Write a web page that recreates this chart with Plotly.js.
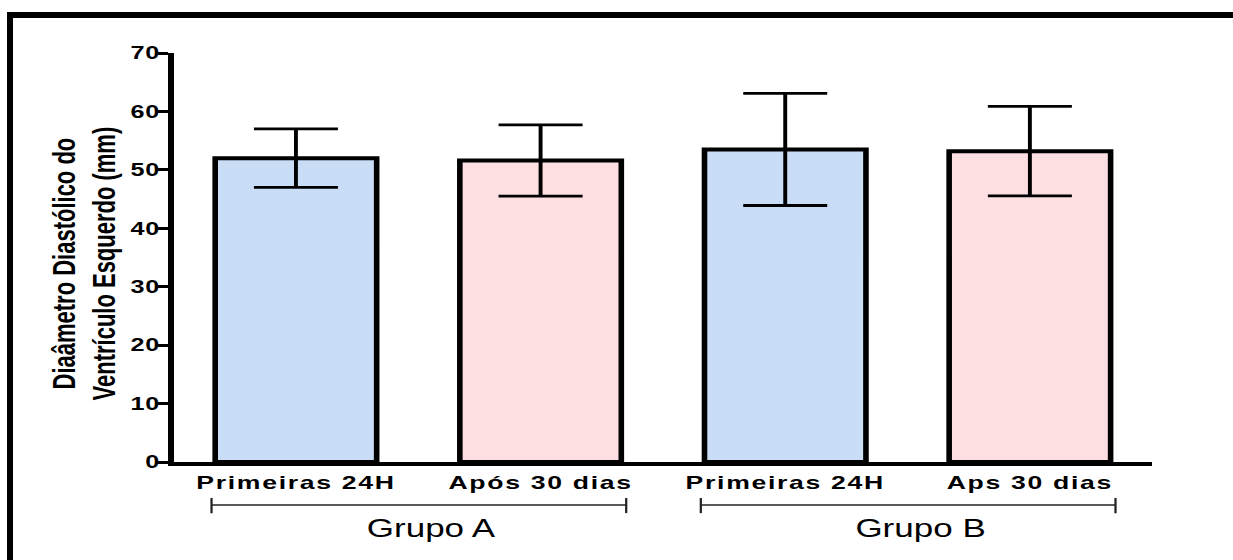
<!DOCTYPE html>
<html>
<head>
<meta charset="utf-8">
<script src="https://cdn.plot.ly/plotly-3.0.1.min.js"></script>
<style>
  html, body { margin: 0; padding: 0; background: #fff; overflow: hidden; }
  #wrap { position: relative; width: 1233px; height: 560px; overflow: hidden; }
  #chart { position: absolute; left: 0; top: 0; width: 881px; height: 560px;
           transform: scaleX(1.4); transform-origin: 0 0; }
  #frame { position: absolute; left: 7px; top: 12px; width: 1400px; height: 700px;
           border-top: 6px solid #000; border-left: 6px solid #000; pointer-events: none; }
  .xtick text { letter-spacing: 1.2px; }
  .ytick text { letter-spacing: 0.6px; }
</style>
</head>
<body>
<div id="wrap">
  <div id="chart"></div>
  <div id="frame"></div>
</div>
<script>
// Left ventricular end-diastolic diameter, mean ± SD per group and time point
const categories = ['Primeiras 24H', 'Após 30 dias', 'Primeiras 24H', 'Aps 30 dias'];
const meanValues = [52.0, 51.6, 53.5, 53.2];
const sdValues = [5.0, 6.1, 9.6, 7.65];
const groupNames = ['Grupo A', 'Grupo B'];
const groupMembers = [[0, 1], [2, 3]];
const barColors = ['#C9DEF6', '#FDDFE1', '#C9DEF6', '#FDDFE1'];
const yTickValues = [0, 10, 20, 30, 40, 50, 60, 70];

const positions = categories.map((_, i) => i);
const fontFamily = '"Liberation Sans", Arial, Helvetica, sans-serif';

const trace = {
  type: 'bar',
  x: positions,
  y: meanValues,
  width: 0.66,
  marker: { color: barColors, line: { color: '#000', width: 4 } },
  error_y: { type: 'data', array: sdValues, visible: true, color: '#000', thickness: 2.8, width: 30 },
  hoverinfo: 'none'
};

// Group brackets under the category labels
const shapes = [];
const annotations = [];
groupMembers.forEach((members, g) => {
  const x0 = members[0] - 0.345;
  const x1 = members[members.length - 1] + 0.35;
  const line = { color: '#222', width: 1.6 };
  shapes.push({ type: 'line', xref: 'x', yref: 'paper', x0: x0, x1: x1, y0: -0.105, y1: -0.105, line: line });
  shapes.push({ type: 'line', xref: 'x', yref: 'paper', x0: x0, x1: x0, y0: -0.088, y1: -0.125, line: line });
  shapes.push({ type: 'line', xref: 'x', yref: 'paper', x0: x1, x1: x1, y0: -0.088, y1: -0.125, line: line });
  annotations.push({
    text: groupNames[g], xref: 'x', yref: 'paper',
    x: (x0 + x1) / 2 + 0.05, y: -0.161, xanchor: 'center', yanchor: 'middle',
    showarrow: false, font: { family: fontFamily, size: 25, color: '#000' }
  });
});

annotations.push({
  text: 'Diaâmetro Diastólico do<br>Ventrículo Esquerdo (mm)',
  xref: 'paper', yref: 'paper', x: 0, y: 0.5, xshift: -64, yshift: -6,
  xanchor: 'center', yanchor: 'middle', textangle: -90, showarrow: false,
  font: { family: fontFamily, size: 22, weight: 'bold', color: '#000' }
});

const layout = {
  width: 881, height: 560,
  margin: { l: 124, r: 58, t: 53, b: 98 },
  paper_bgcolor: 'rgba(0,0,0,0)',
  plot_bgcolor: 'rgba(0,0,0,0)',
  showlegend: false,
  xaxis: {
    range: [-0.5, categories.length - 0.5],
    tickvals: positions, ticktext: categories,
    showline: true, linecolor: '#000', linewidth: 4,
    ticks: '', showgrid: false, zeroline: false,
    tickfont: { family: fontFamily, size: 19, weight: 'bold', color: '#000' },
    ticklabelstandoff: 0
  },
  yaxis: {
    range: [0, 70], tickvals: yTickValues,
    showline: true, linecolor: '#000', linewidth: 4,
    ticks: 'outside', ticklen: 8, tickwidth: 3, tickcolor: '#000',
    showgrid: false, zeroline: false,
    tickfont: { family: fontFamily, size: 18, weight: 'bold', color: '#000' },
    ticklabelstandoff: -6
  },
  shapes: shapes,
  annotations: annotations
};

Plotly.newPlot('chart', [trace], layout, { staticPlot: true, displayModeBar: false });
</script>
</body>
</html>
